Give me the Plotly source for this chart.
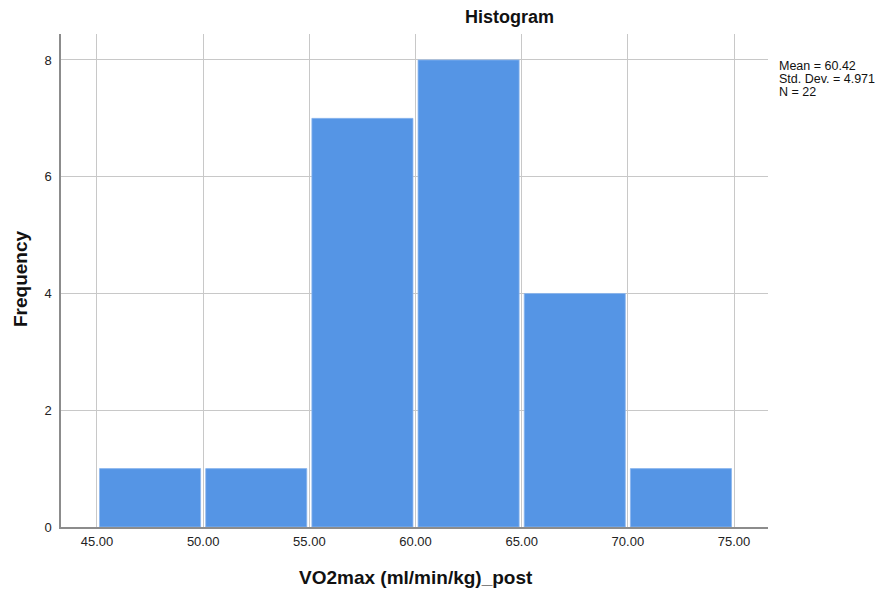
import plotly.graph_objects as go

# Histogram of VO2max post-test values (bin width 5)
bin_starts = [45, 50, 55, 60, 65, 70]
frequencies = [1, 1, 7, 8, 4, 1]
x_tick_values = [45, 50, 55, 60, 65, 70, 75]
x_tick_labels = ["45.00", "50.00", "55.00", "60.00", "65.00", "70.00", "75.00"]
y_tick_values = [0, 2, 4, 6, 8]
stats_lines = ["Mean = 60.42", "Std. Dev. = 4.971", "N = 22"]

BIN_WIDTH = 5
bar_centers = [s + BIN_WIDTH / 2 for s in bin_starts]

W, H = 883, 592
L, R, T, B = 61, 115, 34, 65

fig = go.Figure(
    go.Bar(
        x=bar_centers,
        y=frequencies,
        width=4.76,
        marker=dict(color="#5595e5", line=dict(color="#8ab5ee", width=0.8)),
        hoverinfo="x+y",
    )
)

font_family = "Liberation Sans, Arial, sans-serif"

fig.update_layout(
    width=W,
    height=H,
    margin=dict(l=L, r=R, t=T, b=B),
    paper_bgcolor="white",
    plot_bgcolor="white",
    showlegend=False,
    font=dict(family=font_family, color="#222222", size=13),
    xaxis=dict(
        range=[43.305, 76.6],
        tickvals=x_tick_values,
        ticktext=x_tick_labels,
        showgrid=True,
        gridcolor="#c8c8c8",
        gridwidth=1,
        zeroline=False,
        showline=True,
        linecolor="#8c8c8c",
        linewidth=1.5,
        ticks="",
        ticklabelstandoff=2,
        tickfont=dict(size=13, color="#222222"),
    ),
    yaxis=dict(
        range=[0, 8.445],
        tickvals=y_tick_values,
        showgrid=True,
        gridcolor="#c8c8c8",
        gridwidth=1,
        zeroline=False,
        showline=True,
        linecolor="#8c8c8c",
        linewidth=1.5,
        ticks="",
        ticklabelstandoff=5,
        tickfont=dict(size=13, color="#222222"),
    ),
)

# Text placed by pixel position (x from left, y from top)
annotations = [
    dict(text="<b>Histogram</b>", x=510, y=17, font=dict(size=18, color="#111111")),
    dict(text="<b>VO2max (ml/min/kg)_post</b>", x=416, y=577,
         font=dict(size=19, color="#111111")),
    dict(text="<b>Frequency</b>", x=20, y=279, textangle=-90,
         font=dict(size=19, color="#111111")),
]
for i, line in enumerate(stats_lines):
    annotations.append(dict(text=line, x=777, y=66 + 13 * i, xanchor="left",
                            font=dict(size=12.5, color="#111111")))

# Convert pixel positions to paper coordinates
pw, ph = W - L - R, H - T - B
for a in annotations:
    a["x"] = (a["x"] - L) / pw
    a["y"] = (H - a["y"] - B) / ph
    a["xref"] = "paper"
    a["yref"] = "paper"
    a["showarrow"] = False
    a["yanchor"] = "middle"
    a.setdefault("xanchor", "center")
fig.update_layout(annotations=annotations)

fig.write_html("out.html")
